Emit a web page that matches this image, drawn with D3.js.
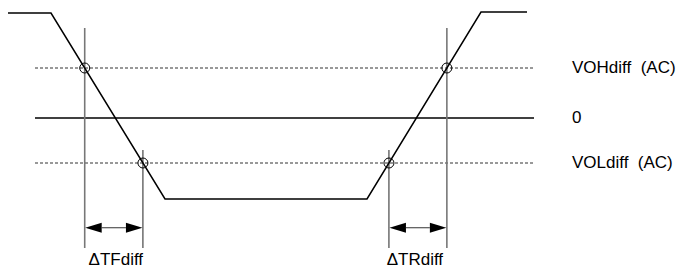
<!DOCTYPE html>
<html>
<head>
<meta charset="utf-8">
<script src="https://cdn.jsdelivr.net/npm/d3@7"></script>
<style>
  html, body { margin: 0; padding: 0; background: #fff; }
  svg { display: block; }
  text { font-family: "Liberation Sans", Arial, sans-serif; fill: #000; white-space: pre; }
</style>
</head>
<body>
<svg id="chart" width="681" height="270"></svg>
<script>
// ---- data (time in ns-like units, voltage in arbitrary units) ----
const waveT = [0.8, 5.1, 16.5, 36.7, 48.1, 52.7];
const waveV = [1.05, 1.05, -0.81, -0.81, 1.06, 1.06];

const levelNames  = ["VOHdiff  (AC)", "0", "VOLdiff  (AC)"];
const levelValues = [0.5, 0, -0.45];
const levelDashed = [true, false, true];
const levelStart = 3.5, levelEnd = 53.4;

const intervalNames = ["\u0394TFdiff", "\u0394TRdiff"];
const markerTop = 0.9, innerTop = -0.32, markerBottom = -1.3, arrowLevel = -1.097;

// ---- scales ----
const W = 681, H = 270;
const x = d3.scaleLinear().domain([0, 68.1]).range([0, W]);
const y = d3.scaleLinear().domain([-1.52, 1.18]).range([H, 0]);

const svg = d3.select("#chart");
const wave = waveT.map((t, i) => ({ t, v: waveV[i] }));

// crossing time of waveform segment [a,b] with level v
function cross(a, b, v) {
  const f = (v - a.v) / (b.v - a.v);
  return a.t + f * (b.t - a.t);
}
const fallOH = cross(wave[1], wave[2], levelValues[0]);
const fallOL = cross(wave[1], wave[2], levelValues[2]);
const riseOL = cross(wave[3], wave[4], levelValues[2]);
const riseOH = cross(wave[3], wave[4], levelValues[0]);

// ---- reference levels ----
levelValues.forEach((v, i) => {
  svg.append("line")
    .attr("x1", x(levelStart)).attr("x2", x(levelEnd))
    .attr("y1", y(v)).attr("y2", y(v))
    .attr("stroke", levelDashed[i] ? "#333" : "#000")
    .attr("stroke-width", levelDashed[i] ? 1 : 1.4)
    .attr("stroke-dasharray", levelDashed[i] ? "3,2" : null);
  svg.append("text")
    .attr("x", 572).attr("y", y(v) + 5)
    .attr("font-size", 17)
    .attr("xml:space", "preserve")
    .text(levelNames[i]);
});

// ---- marker verticals ----
const outer = [fallOH, riseOH];
const inner = [fallOL, riseOL];
outer.forEach(t => {
  svg.append("line")
    .attr("x1", x(t)).attr("x2", x(t))
    .attr("y1", y(markerTop)).attr("y2", y(markerBottom))
    .attr("stroke", "#777").attr("stroke-width", 1.6);
});
inner.forEach(t => {
  svg.append("line")
    .attr("x1", x(t)).attr("x2", x(t))
    .attr("y1", y(innerTop)).attr("y2", y(markerBottom))
    .attr("stroke", "#222").attr("stroke-width", 1);
});

// ---- waveform ----
svg.append("path")
  .datum(wave)
  .attr("d", d3.line().x(d => x(d.t)).y(d => y(d.v)))
  .attr("fill", "none").attr("stroke", "#000").attr("stroke-width", 1.5);

// ---- crossing circles ----
[[fallOH, levelValues[0]], [fallOL, levelValues[2]], [riseOL, levelValues[2]], [riseOH, levelValues[0]]]
  .forEach(([t, v]) => {
    svg.append("circle")
      .attr("cx", x(t)).attr("cy", y(v)).attr("r", 5)
      .attr("fill", "none").attr("stroke", "#000").attr("stroke-width", 1);
  });

// ---- interval arrows ----
const intervals = [[fallOH, fallOL], [riseOL, riseOH]];
intervals.forEach(([a, b], i) => {
  const xa = x(a), xb = x(b), ya = y(arrowLevel);
  const L = 17, hw = 5;
  svg.append("line")
    .attr("x1", xa + L).attr("x2", xb - L).attr("y1", ya).attr("y2", ya)
    .attr("stroke", "#555").attr("stroke-width", 1.2);
  svg.append("path")
    .attr("d", `M${xa + 0.5},${ya} L${xa + L},${ya - hw} L${xa + L},${ya + hw} Z`)
    .attr("fill", "#000");
  svg.append("path")
    .attr("d", `M${xb - 0.5},${ya} L${xb - L},${ya - hw} L${xb - L},${ya + hw} Z`)
    .attr("fill", "#000");
  svg.append("text")
    .attr("x", (xa + xb) / 2 + (i === 0 ? 2 : -3)).attr("y", 265)
    .attr("text-anchor", "middle")
    .attr("font-size", 17)
    .text(intervalNames[i]);
});
</script>
</body>
</html>
